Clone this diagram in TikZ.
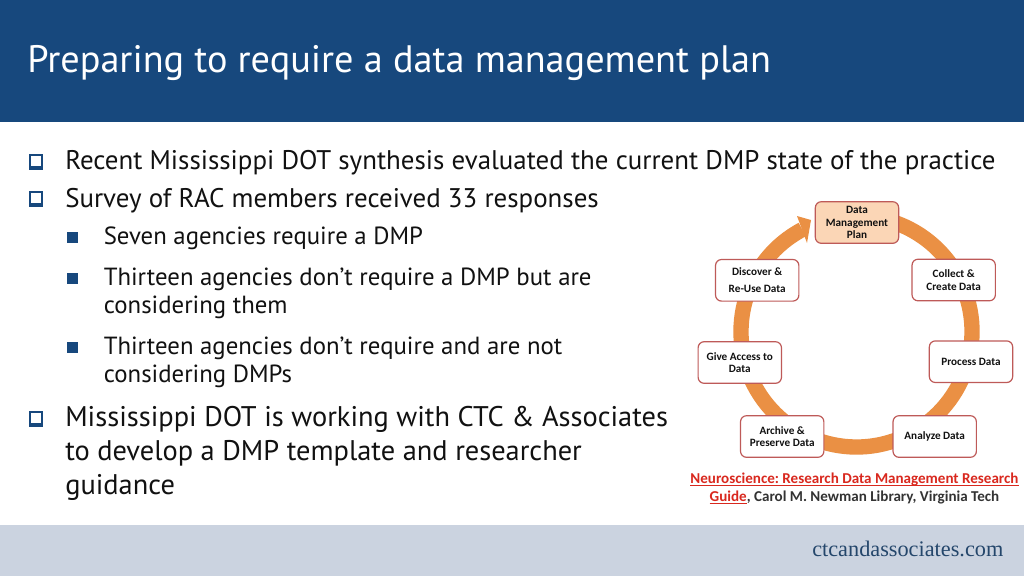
\documentclass[tikz,border=0pt]{standalone}
\usepackage{fontspec}
\setmainfont{PT Sans}
\newfontfamily\capfont{Carlito}
\newfontfamily\logofont{Liberation Serif}
\definecolor{hdr}{HTML}{17487D}
\definecolor{band}{HTML}{CBD3E0}
\definecolor{ringc}{HTML}{EA9044}
\definecolor{boxline}{HTML}{BE5A58}
\definecolor{dmpfill}{HTML}{FBD6B6}
\definecolor{linkred}{HTML}{D9281E}
\definecolor{txt}{HTML}{111111}
\definecolor{logoc}{HTML}{24466B}
\tikzset{x=0.75pt,y=-0.75pt,
 stepbox/.style={draw=boxline,line width=0.9pt,rounded corners=4.5pt,fill=white,minimum width=62.5pt,minimum height=31.2pt,inner sep=0pt,align=center,text=txt,font=\capfont\bfseries\fontsize{8.4}{9.2}\selectfont},
 bigline/.style={anchor=base west,inner sep=0pt,text=txt,font=\fontsize{20.2}{22}\selectfont},
 bigger/.style={anchor=base west,inner sep=0pt,text=txt,font=\fontsize{21.3}{24}\selectfont},
 subline/.style={anchor=base west,inner sep=0pt,text=txt,font=\fontsize{18.6}{20}\selectfont},
 capline/.style={anchor=base,inner sep=0pt,font=\capfont\bfseries\fontsize{11.3}{13}\selectfont}}
\newcommand{\qbul}[1]{\fill[hdr] (28.5,#1-7) rectangle ++(14.5,15.5);\fill[white] (30.5,#1-5.5) rectangle ++(10,10.5);}
\newcommand{\sbul}[1]{\fill[hdr] (67,#1-5.5) rectangle ++(11,11);}
\newcommand{\myul}[1]{\setbox0\hbox{#1}\rlap{\rule[-1.5pt]{\wd0}{0.7pt}}\box0 }
\frenchspacing
\begin{document}
\begin{tikzpicture}
\useasboundingbox (0,0) rectangle (1024,576);
\fill[white] (0,0) rectangle (1024,576);
\fill[hdr] (0,0) rectangle (1024,122);
\fill[band] (0,525) rectangle (1024,576);
\node[anchor=base west,inner sep=0pt,text=white,font=\fontsize{28.7}{30}\selectfont] (title) at (27,72.5) {Preparing to require a data management plan};
\qbul{161}\qbul{198}\qbul{418}
\sbul{237.5}\sbul{278.5}\sbul{347.5}
\node[bigline] (a1) at (65,169.5) {Recent Mississippi DOT synthesis evaluated the current DMP state of the practice};
\node[bigline] (a2) at (65,207) {Survey of RAC members received 33 responses};
\node[subline] (b1) at (103.500,244.5) {Seven agencies require a DMP};
\node[subline] (b2) at (103.500,285.5) {Thirteen agencies don’t require a DMP but are};
\node[subline] (b3) at (103.500,313.5) {considering them};
\node[subline] (b4) at (103.500,354.5) {Thirteen agencies don’t require and are not};
\node[subline] (b5) at (103.500,382.5) {considering DMPs};
\node[bigger] (c1) at (65,426.5) {Mississippi DOT is working with CTC \& Associates};
\node[bigger] (c2) at (65,460.5) {to develop a DMP template and researcher};
\node[bigger] (c3) at (65,494.5) {guidance};
% ring
\begin{scope}[shift={(856.5,331.5)},x=0.75pt,y=0.75pt]
\draw[ringc,line width=11.5pt] (118:115.5) arc[start angle=118,end angle=450,radius=115.5];
\end{scope}
\fill[ringc] (797,216) -- (811,220) -- (807,243) -- cycle;
\node[stepbox,fill=dmpfill] (dmp) at (857,222.500) {Data\\Management\\Plan};
\node[stepbox] (collect) at (953.700,280) {Collect \&\\Create Data};
\node[stepbox] (process) at (971,361.700) {Process Data};
\node[stepbox] (analyze) at (934.700,436.500) {Analyze Data};
\node[stepbox] (archive) at (782.200,436.500) {Archive \&\\Preserve Data};
\node[stepbox] (give) at (739.800,362.500) {Give Access to\\Data};
\node[stepbox,font=\capfont\bfseries\fontsize{8.4}{12.500}\selectfont] (discover) at (757.200,280.300) {Discover \&\\Re-Use Data};
\node[capline,text=linkred] (cap1) at (854.500,483.500) {\myul{Neuroscience: Research Data Management Research}};
\node[capline,text=black!80] (cap2) at (854.500,501.500) {\textcolor{linkred}{\myul{Guide}}, Carol M. Newman Library, Virginia Tech};
\node[anchor=base west,inner sep=0pt,text=logoc,font=\logofont\fontsize{16.7}{18}\selectfont] (logo) at (812,556) {ctcandassociates.com};
\end{tikzpicture}
\end{document}
